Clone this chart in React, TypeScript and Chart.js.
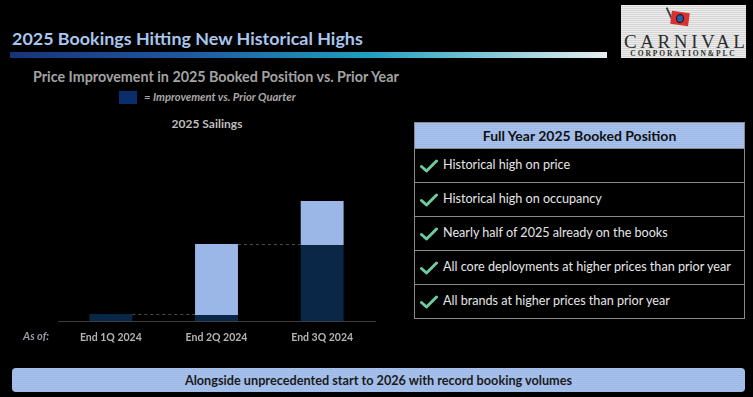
import React, { useEffect, useRef } from "react";
import { Chart, registerables } from "chart.js";

Chart.register(...registerables);

const categories = ["End 1Q 2024", "End 2Q 2024", "End 3Q 2024"];
const priorPosition = [7, 6, 76];
const improvement = [0, 71, 44];
const tableRows = [
  "Historical high on price",
  "Historical high on occupancy",
  "Nearly half of 2025 already on the books",
  "All core deployments at higher prices than prior year",
  "All brands at higher prices than prior year",
];

const FONT = "Lato, 'Open Sans', sans-serif";

const dashPlugin = {
  id: "dashConnectors",
  afterDatasetsDraw(chart: any) {
    const ctx = chart.ctx;
    const meta0 = chart.getDatasetMeta(0);
    const y = chart.scales.y;
    ctx.save();
    ctx.strokeStyle = "#4a4a4a";
    ctx.lineWidth = 1.2;
    ctx.setLineDash([3, 3]);
    for (let i = 0; i < categories.length - 1; i++) {
      const total = priorPosition[i] + improvement[i];
      const py = Math.round(y.getPixelForValue(total)) + 0.5;
      const b0: any = meta0.data[i];
      const b1: any = meta0.data[i + 1];
      const x0 = b0.x + b0.width / 2;
      const x1 = b1.x - b1.width / 2;
      ctx.beginPath();
      ctx.moveTo(x0, py);
      ctx.lineTo(x1, py);
      ctx.stroke();
    }
    ctx.restore();
  },
};

function BarChart() {
  const ref = useRef<HTMLCanvasElement | null>(null);
  useEffect(() => {
    if (!ref.current) return;
    const chart = new Chart(ref.current, {
      type: "bar",
      data: {
        labels: categories,
        datasets: [
          {
            label: "Prior",
            data: priorPosition,
            backgroundColor: "#0b2748",
            borderWidth: 0,
            categoryPercentage: 1,
            barPercentage: 0.406,
          },
          {
            label: "Improvement",
            data: improvement,
            backgroundColor: "#9bb7e8",
            borderWidth: 0,
            categoryPercentage: 1,
            barPercentage: 0.406,
          },
        ],
      },
      options: {
        animation: false,
        responsive: false,
        maintainAspectRatio: false,
        layout: { padding: { left: 58, right: 25, top: 0, bottom: 0 } },
        plugins: { legend: { display: false }, tooltip: { enabled: false } },
        scales: {
          x: {
            stacked: true,
            grid: { display: false },
            border: { color: "#3c3c3c", width: 1 },
            ticks: {
              color: "#b4b4b4",
              font: { family: FONT, size: 10.5, weight: "bold" },
              padding: 2,
            },
            afterFit(scale: any) {
              scale.height = 29;
            },
          },
          y: {
            stacked: true,
            display: false,
            min: 0,
            max: 171,
          },
        },
      },
      plugins: [dashPlugin],
    });
    return () => chart.destroy();
  }, []);
  return (
    <canvas
      ref={ref}
      width={400}
      height={200}
      style={{ position: "absolute", left: 0, top: 150, width: 400, height: 200 }}
    />
  );
}

const Check = () => (
  <svg width="18" height="14" viewBox="0 0 18 14" style={{ position: "absolute", left: 5, top: 10 }}>
    <path d="M1.5 7.5 L6.5 12 L16.5 2" stroke="#6fcaa0" strokeWidth="3" fill="none" strokeLinecap="round" strokeLinejoin="round" />
  </svg>
);

export default function App() {
  const stripes =
    "repeating-linear-gradient(180deg, rgba(255,255,255,0.12) 0px, rgba(255,255,255,0.12) 1px, rgba(0,0,0,0) 1px, rgba(0,0,0,0) 2px)";
  return (
    <div
      style={{
        position: "absolute",
        left: 0,
        top: 0,
        width: 753,
        height: 397,
        background: "#000",
        overflow: "hidden",
        fontFamily: FONT,
      }}
    >
      {/* Title */}
      <div
        style={{
          position: "absolute",
          left: 12,
          top: 27,
          fontSize: 17.9,
          fontWeight: 700,
          color: "#a9c6ee",
          whiteSpace: "nowrap",
        }}
      >
        2025 Bookings Hitting New Historical Highs
      </div>
      <div
        style={{
          position: "absolute",
          left: 10,
          top: 52,
          width: 597,
          height: 6,
          background:
            "linear-gradient(90deg, #18337a 0%, #1d5aa0 30%, #1f9fbf 60%, #7fc6d8 80%, #e8eef0 100%)",
        }}
      />
      {/* Logo */}
      <div
        style={{
          position: "absolute",
          left: 621,
          top: 5,
          width: 125,
          height: 53,
          background: "#e6e6e6",
          backgroundImage:
            "repeating-linear-gradient(180deg, #ececec 0px, #ececec 1px, #d6d6d6 1px, #d6d6d6 2px)",
        }}
      >
        <div style={{ position: "absolute", left: 48, top: 2, width: 1.5, height: 16, background: "#444", transform: "rotate(-25deg)" }} />
        <div style={{ position: "absolute", left: 50, top: 7, width: 18, height: 13, background: "#d8312f", transform: "rotate(8deg)" }}>
          <div style={{ position: "absolute", left: 5, top: 2, width: 8, height: 9, borderRadius: "50%", background: "#2a5ca8", border: "1px solid #111", boxSizing: "border-box" }} />
        </div>
        <div
          style={{
            position: "absolute",
            left: 0,
            top: 28,
            width: 125,
            textAlign: "center",
            fontFamily: "'Liberation Serif', 'DejaVu Serif', serif",
            fontSize: 19,
            letterSpacing: 3.6,
            color: "#2d2d2d",
            lineHeight: "18px",
            textIndent: 3,
          }}
        >
          CARNIVAL
        </div>
        <div
          style={{
            position: "absolute",
            left: 0,
            top: 45,
            width: 125,
            textAlign: "center",
            fontFamily: "'Liberation Serif', 'DejaVu Serif', serif",
            fontSize: 7.5,
            fontWeight: 700,
            letterSpacing: 1.9,
            color: "#2d2d2d",
            lineHeight: "8px",
          }}
        >
          CORPORATION&amp;PLC
        </div>
      </div>
      {/* Subtitle */}
      <div
        style={{
          position: "absolute",
          left: 33,
          top: 68,
          fontSize: 14.3,
          fontWeight: 700,
          color: "#a3a3a3",
          whiteSpace: "nowrap",
        }}
      >
        Price Improvement in 2025 Booked Position vs. Prior Year
      </div>
      {/* Legend */}
      <div style={{ position: "absolute", left: 119, top: 91, width: 18, height: 13, background: "#0c2d6b" }} />
      <div
        style={{
          position: "absolute",
          left: 144,
          top: 90,
          fontSize: 11.2,
          fontStyle: "italic",
          fontWeight: 700,
          color: "#a8a8a8",
          whiteSpace: "nowrap",
        }}
      >
        = Improvement vs. Prior Quarter
      </div>
      <div
        style={{
          position: "absolute",
          left: 0,
          width: 414,
          top: 116,
          textAlign: "center",
          fontSize: 12,
          fontWeight: 700,
          color: "#bdbdbd",
        }}
      >
        2025 Sailings
      </div>
      <BarChart />
      <div
        style={{
          position: "absolute",
          left: 23,
          top: 329,
          fontSize: 11,
          fontStyle: "italic",
          fontWeight: 700,
          color: "#9a9aa4",
        }}
      >
        As of:
      </div>
      {/* Table */}
      <div
        style={{
          position: "absolute",
          left: 414,
          top: 122,
          width: 331,
          border: "1px solid #8a8a8a",
          boxSizing: "border-box",
        }}
      >
        <div
          style={{
            height: 25,
            background: "#9db9e8",
            backgroundImage: stripes,
            color: "#111",
            fontWeight: 700,
            fontSize: 14,
            textAlign: "center",
            lineHeight: "25px",
            borderBottom: "1px solid #8a8a8a",
          }}
        >
          Full Year 2025 Booked Position
        </div>
        {tableRows.map((t, i) => (
          <div
            key={i}
            style={{
              position: "relative",
              height: 33,
              borderBottom: i < tableRows.length - 1 ? "1px solid #8a8a8a" : "none",
              color: "#e6e6e6",
              fontSize: 12.6,
              lineHeight: "31px",
              paddingLeft: 28,
              whiteSpace: "nowrap",
            }}
          >
            <Check />
            {t}
          </div>
        ))}
      </div>
      {/* Bottom banner */}
      <div
        style={{
          position: "absolute",
          left: 12,
          top: 368,
          width: 733,
          height: 24,
          borderRadius: 4,
          background: "#9db9e8",
          backgroundImage: stripes,
          color: "#1a1a1a",
          fontSize: 12.7,
          fontWeight: 700,
          textAlign: "center",
          lineHeight: "25px",
        }}
      >
        Alongside unprecedented start to 2026 with record booking volumes
      </div>
    </div>
  );
}
